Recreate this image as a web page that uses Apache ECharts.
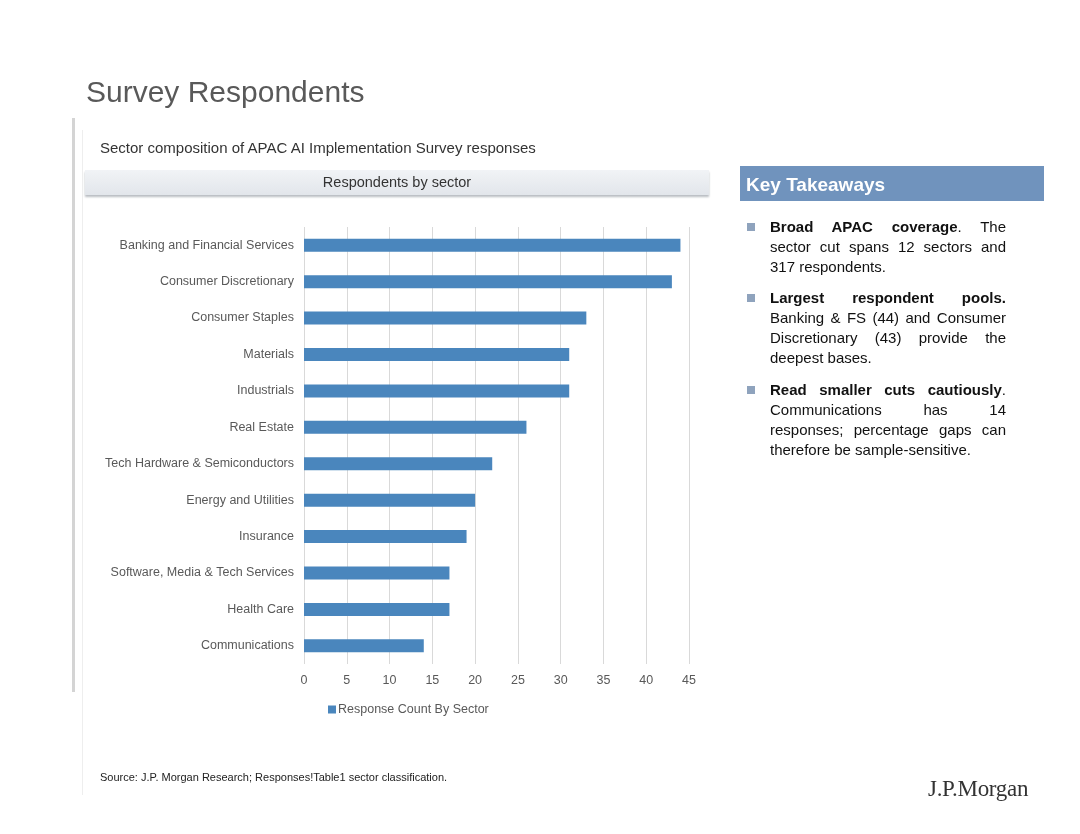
<!DOCTYPE html>
<html lang="en">
<head>
  <meta charset="utf-8">
  <style>
    body { margin: 0; width: 1080px; height: 834px; position: relative; background: #fff; font-family: "Liberation Sans", Arial, sans-serif; overflow: hidden; }
    #container { position: absolute; left: 0; top: 0; width: 1080px; height: 834px; }
    .abs { position: absolute; }
    #title { left: 86px; top: 75px; font-size: 30px; color: #595959; }
    #sub { left: 100px; top: 139px; font-size: 15px; color: #333; }
    #bar { left: 85px; top: 170px; width: 624px; height: 25px; background: linear-gradient(#f1f3f6, #e2e6eb); box-shadow: 0 2px 2px #b9bdc2; text-align: center; font-size: 14.5px; line-height: 25px; color: #333; }
    #kt { left: 740px; top: 166px; width: 304px; height: 35px; background: #7093bd; color: #fff; font-weight: bold; font-size: 19px; line-height: 37px; padding-left: 6px; box-sizing: border-box; }
    .pt { left: 770px; width: 236px; font-size: 15px; line-height: 20px; color: #111; text-align: justify; }
    .sq { left: 747px; width: 8px; height: 8px; background: #8fa3bd; }
    #src { left: 100px; top: 771px; font-size: 11px; color: #222; }
    #logo { left: 928px; top: 776px; font-family: "Liberation Serif", "DejaVu Serif", serif; font-size: 23px; color: #333; letter-spacing: -0.3px; }
    #lineA { left: 72px; top: 118px; width: 3px; height: 574px; background: #d4d4d4; }
    #lineB { left: 82px; top: 130px; width: 1px; height: 665px; background: #eeeeee; }
  </style>
</head>
<body>
  <div id="container"></div>
  <div class="abs" id="lineA"></div>
  <div class="abs" id="lineB"></div>
  <div class="abs" id="title">Survey Respondents</div>
  <div class="abs" id="sub">Sector composition of APAC AI Implementation Survey responses</div>
  <div class="abs" id="bar">Respondents by sector</div>
  <div class="abs" id="kt">Key Takeaways</div>
  <div class="abs sq" style="top:223px"></div>
  <div class="abs pt" style="top:217px"><b>Broad APAC coverage</b>. The sector cut spans 12 sectors and 317 respondents.</div>
  <div class="abs sq" style="top:294px"></div>
  <div class="abs pt" style="top:288px"><b>Largest respondent pools.</b> Banking &amp; FS (44) and Consumer Discretionary (43) provide the deepest bases.</div>
  <div class="abs sq" style="top:386px"></div>
  <div class="abs pt" style="top:380px"><b>Read smaller cuts cautiously</b>. Communications has 14 responses; percentage gaps can therefore be sample-sensitive.</div>
  <div class="abs" id="src">Source: J.P. Morgan Research; Responses!Table1 sector classification.</div>
  <div class="abs" id="logo">J.P.Morgan</div>

  <script src="https://fastly.jsdelivr.net/npm/echarts@6/dist/echarts.min.js"></script>
  <script>
    // 数据
    var sectors = [
      'Banking and Financial Services', 'Consumer Discretionary', 'Consumer Staples',
      'Materials', 'Industrials', 'Real Estate', 'Tech Hardware & Semiconductors',
      'Energy and Utilities', 'Insurance', 'Software, Media & Tech Services',
      'Health Care', 'Communications'
    ];
    var counts = [44, 43, 33, 31, 31, 26, 22, 20, 19, 17, 17, 14];
    var seriesName = 'Response Count By Sector';

    var myChart = echarts.init(document.getElementById('container'), null, { renderer: 'canvas' });

    var option = {
      animation: false,
      textStyle: { fontFamily: 'Liberation Sans, Arial, sans-serif' },
      grid: { left: 304, width: 385, top: 227, height: 437 },
      legend: {
        data: [seriesName],
        left: 323, top: 698,
        itemWidth: 8, itemHeight: 8, itemGap: 4,
        icon: 'rect',
        textStyle: { color: '#595959', fontSize: 12.5, padding: [0, 0, 0, -3] }
      },
      xAxis: {
        type: 'value', min: 0, max: 45, interval: 5,
        axisLine: { show: false }, axisTick: { show: false },
        splitLine: { lineStyle: { color: '#d9d9d9' } },
        axisLabel: { color: '#595959', fontSize: 12.5, margin: 10 }
      },
      yAxis: {
        type: 'category', inverse: true, data: sectors,
        axisLine: { show: false }, axisTick: { show: false },
        axisLabel: { color: '#595959', fontSize: 12.5, margin: 10 }
      },
      series: [{
        name: seriesName, type: 'bar', data: counts,
        barWidth: 13,
        itemStyle: { color: '#4a86bd' }
      }]
    };
    myChart.setOption(option);
  </script>
</body>
</html>
